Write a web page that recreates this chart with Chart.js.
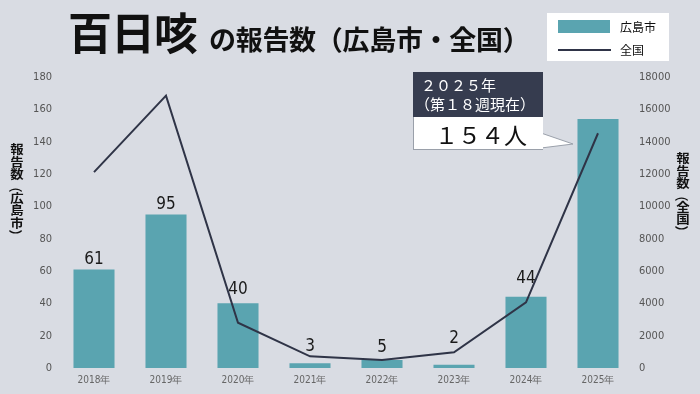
<!DOCTYPE html>
<html><head><meta charset="utf-8">
<script src="https://cdn.jsdelivr.net/npm/chart.js@4.4.1/dist/chart.umd.min.js"></script>
<style>
html,body{margin:0;padding:0;}
body{width:700px;height:394px;background:#d9dce3;position:relative;overflow:hidden;font-family:"Noto Sans CJK JP","Noto Sans",sans-serif;}
#wrap{position:absolute;left:0;top:0;width:700px;height:394px;}
.title{position:absolute;left:68px;top:5px;display:flex;align-items:baseline;color:#111;font-weight:700;white-space:nowrap;}
.title .big{font-size:44px;line-height:52px;letter-spacing:-1px;}
.title .small{font-size:27px;margin-left:12px;letter-spacing:-0.3px;}
.vt{position:absolute;width:18px;font-size:12px;font-weight:700;color:#111;transform:scaleX(1.12);transform-origin:center top;}
.vt span{display:block;height:12.6px;line-height:12.6px;text-align:center;}
.vt span.p{transform:rotate(90deg);height:11px;line-height:11px;}
.legend{position:absolute;left:547px;top:13px;width:122px;height:48px;background:#fff;}
.legend .sw{position:absolute;left:11px;top:7px;width:52px;height:13px;background:#5aa4b0;}
.legend .ln{position:absolute;left:11px;top:36px;width:53px;height:2px;background:#2f3447;}
.legend .t{position:absolute;left:73px;font-size:12px;color:#111;line-height:14px;}
.cb-dark{position:absolute;left:413px;top:72px;width:130px;height:45px;background:#363c4f;color:#fff;}
.cb-dark div{position:absolute;font-size:15px;line-height:16px;white-space:nowrap;}
.cb-white{position:absolute;left:413px;top:117px;width:129px;height:32px;background:#fff;border:1px solid #9aa0aa;border-top:none;border-right:none;}
.cb-num{position:absolute;left:435px;top:119px;font-size:23px;line-height:30px;color:#111;letter-spacing:0px;white-space:nowrap;}
svg{position:absolute;left:0;top:0;}
</style></head>
<body>
<div id="wrap"><canvas id="c" width="700" height="394"></canvas></div>
<div class="title"><span class="big">百日咳</span><span class="small">の報告数（広島市・全国）</span></div>
<div class="vt" style="left:8px;top:143px;"><span>報</span><span>告</span><span>数</span><span class="p">（</span><span>広</span><span>島</span><span>市</span><span class="p">）</span></div>
<div class="vt" style="left:674px;top:152px;"><span>報</span><span>告</span><span>数</span><span class="p">（</span><span>全</span><span>国</span><span class="p">）</span></div>
<div class="legend"><div class="sw"></div><div class="t" style="top:7px;">広島市</div><div class="ln"></div><div class="t" style="top:30px;">全国</div></div>
<svg width="700" height="394"><polygon points="541,133 573,144 541,148" fill="#fff" stroke="#9aa0aa" stroke-width="1"/><rect x="540" y="132" width="3" height="17" fill="#fff"/></svg>
<div class="cb-white"></div>
<div class="cb-dark"><div style="left:8px;top:5px;">２０２５年</div><div style="left:2px;top:24px;">（第１８週現在）</div></div>
<div class="cb-num">１５４人</div>
<script>
const years = ["2018年","2019年","2020年","2021年","2022年","2023年","2024年","2025年"];
const hiroshima = [61, 95, 40, 3, 5, 2, 44, 154];
const national = [12115, 16850, 2800, 720, 495, 975, 4060, 14520];
const leftTicks = [0,20,40,60,80,100,120,140,160,180];
const rightTicks = [0,2000,4000,6000,8000,10000,12000,14000,16000,18000];
const barLabels = ["61","95","40","3","5","2","44",null];
const labelGap = [5, 5, 9, 12, 8, 22, 14, 0];

const NARROW = '"Liberation Sans Narrow","DejaVu Sans Condensed","Roboto",sans-serif';

const barLabelPlugin = {
  id: 'barLabels',
  afterDatasetsDraw(chart) {
    const meta = chart.getDatasetMeta(1);
    const ctx = chart.ctx;
    ctx.save();
    ctx.font = '17px ' + NARROW;
    ctx.fillStyle = '#1a1a1a';
    ctx.textAlign = 'center';
    ctx.textBaseline = 'alphabetic';
    meta.data.forEach((bar, i) => {
      if (barLabels[i] == null) return;
      ctx.fillText(barLabels[i], bar.x, bar.y - labelGap[i]);
    });
    ctx.restore();
  }
};

new Chart(document.getElementById('c'), {
  type: 'bar',
  data: {
    labels: years,
    datasets: [
      { type: 'line', label: '全国', data: national, yAxisID: 'y1', borderColor: '#2f3447', borderWidth: 2, pointRadius: 0, tension: 0, order: 1 },
      { type: 'bar', label: '広島市', data: hiroshima, yAxisID: 'y', backgroundColor: '#5aa4b0', categoryPercentage: 1, barPercentage: 0.57, order: 2 }
    ]
  },
  options: {
    responsive: false,
    animation: false,
    devicePixelRatio: 1,
    layout: { padding: { top: 77, left: 0, right: 0, bottom: 0 } },
    plugins: { legend: { display: false }, tooltip: { enabled: false } },
    scales: {
      x: {
        grid: { display: false, drawTicks: false },
        border: { display: false },
        ticks: { font: { size: 10, family: NARROW }, color: '#666', padding: 6, maxRotation: 0 },
        afterFit(s) { s.height = 26; }
      },
      y: {
        position: 'left', min: 0, max: 180,
        grid: { display: false, drawTicks: false },
        border: { display: false },
        afterBuildTicks(s) { s.ticks = leftTicks.map(v => ({ value: v })); },
        ticks: { font: { size: 11, family: NARROW }, color: '#555', padding: 6, callback: v => String(v) },
        afterFit(s) { s.width = 58; }
      },
      y1: {
        position: 'right', min: 0, max: 18000,
        grid: { display: false, drawTicks: false },
        border: { display: false },
        afterBuildTicks(s) { s.ticks = rightTicks.map(v => ({ value: v })); },
        ticks: { font: { size: 11, family: NARROW }, color: '#555', padding: 5, callback: v => String(v) },
        afterFit(s) { s.width = 66; }
      }
    }
  },
  plugins: [barLabelPlugin]
});
</script>
</body></html>
